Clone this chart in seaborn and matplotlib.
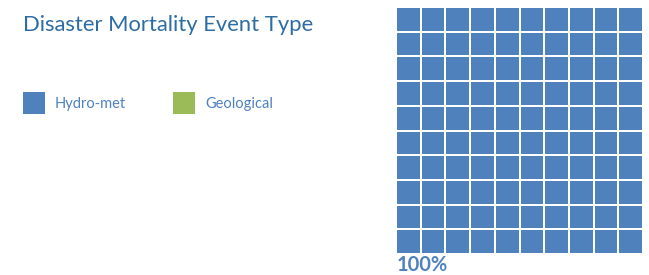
import numpy as np
import pandas as pd
import matplotlib
matplotlib.use("Agg")
import matplotlib.pyplot as plt
from matplotlib.colors import ListedColormap
from matplotlib.patches import Rectangle
import seaborn as sns

categories = ["Hydro-met", "Geological"]
counts = [100, 0]
colors = ["#4F81BD", "#9BBB59"]
title = "Disaster Mortality Event Type"
pct_label = "100%"

sns.set_style("white")
plt.rcParams['font.family'] = ['Lato', 'DejaVu Sans']

W, H = 649, 275
fig = plt.figure(figsize=(W/100, H/100), dpi=100)

# waffle grid built from counts (filled column-wise, bottom to top)
cells = np.concatenate([np.full(c, i) for i, c in enumerate(counts)])
grid = np.zeros((10, 10), dtype=int)
for k, v in enumerate(cells):
    col, row = divmod(k, 10)
    grid[9 - row, col] = v
df = pd.DataFrame(grid)

ax = fig.add_axes([396/W, (H-254)/H, 247/W, 247/H])
sns.heatmap(df, ax=ax, cmap=ListedColormap(colors), vmin=0, vmax=1,
            cbar=False, linewidths=1.2, linecolor="white",
            xticklabels=False, yticklabels=False)
ax.set_xlabel(""); ax.set_ylabel("")

txt_color = "#2E6DA4"
fig.text(23/W, 1-31/H, title, fontsize=15.8, color=txt_color, ha="left", va="baseline")

# legend
xs = [23, 173]
for i, (lab, colr) in enumerate(zip(categories, colors)):
    fig.patches.append(Rectangle((xs[i]/W, 1-114/H), 22/W, 22/H, transform=fig.transFigure,
                                 facecolor=colr, edgecolor="none"))
    fig.text((xs[i]+32)/W, 1-108/H, lab, fontsize=10.5, color="#4F81BD", ha="left", va="baseline")

fig.text(397/W, 1-271/H, pct_label, fontsize=14.5, fontweight="bold", color="#4F81BD",
         ha="left", va="baseline")

fig.savefig("out.png", dpi=100)
